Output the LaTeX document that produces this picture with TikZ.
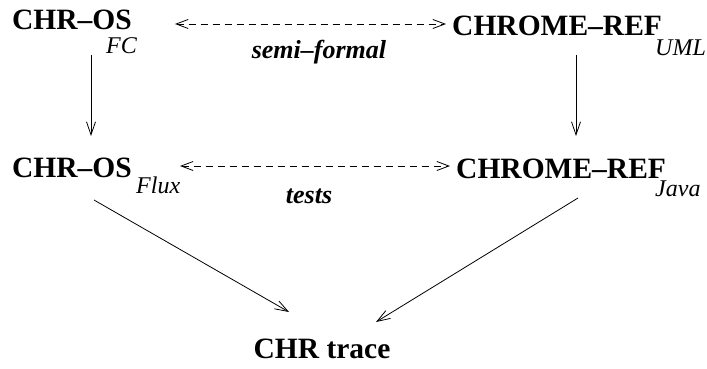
\documentclass[tikz,border=0pt]{standalone}
\usepackage{fontspec}
\setmainfont{Liberation Serif}
\usetikzlibrary{arrows.meta}
\tikzset{
  main/.style={inner sep=0pt, anchor=base west, font=\fontsize{29.5}{30}\selectfont\bfseries},
  sub/.style={inner sep=0pt, anchor=base west, font=\fontsize{24}{25}\selectfont\itshape},
  lab/.style={inner sep=0pt, anchor=base, font=\fontsize{26}{27}\selectfont\bfseries\itshape},
  arr/.style={line width=0.8pt, -{Straight Barb[length=13pt,width=9pt,line width=0.8pt]}},
  darr/.style={line width=0.8pt, dash pattern=on 7pt off 5pt, {Straight Barb[length=12pt,width=9pt,line width=0.8pt]}-{Straight Barb[length=12pt,width=9pt,line width=0.8pt]}}
}
\begin{document}
\begin{tikzpicture}[x=1pt,y=-1pt]
\useasboundingbox (0,0) rectangle (707,369);
\node[main] (a) at (12,30) {CHR–OS};
\node[sub] (afc) at (106,54) {FC};
\node[main] (b) at (452,36) {CHROME–REF};
\node[sub] (buml) at (655,56) {UML};
\node[lab] (sf) at (319,59) {semi–formal};
\node[main] (c) at (12,177) {CHR–OS};
\node[sub] (cflux) at (136,193) {Flux};
\node[main] (d) at (456,178) {CHROME–REF};
\node[sub] (djava) at (655,196) {Java};
\node[lab] (ts) at (309,203) {tests};
\node[main, anchor=base] (e) at (322,358) {CHR trace};
% connector endpoints
\coordinate (a1) at (91,55);
\coordinate (c1) at (91,136);
\coordinate (b1) at (576,55);
\coordinate (d1) at (576,136);
\coordinate (aR) at (175,24);
\coordinate (bL) at (446,24);
\coordinate (cR) at (180,166);
\coordinate (dL) at (450,166);
\coordinate (c2) at (94,200);
\coordinate (e1) at (289,312);
\coordinate (d2) at (578,198);
\coordinate (e2) at (376,322);
\draw[arr] (a1) -- (c1);
\draw[arr] (b1) -- (d1);
\draw[darr] (aR) -- (bL);
\draw[darr] (cR) -- (dL);
\draw[arr] (c2) -- (e1);
\draw[arr] (d2) -- (e2);
\end{tikzpicture}
\end{document}
